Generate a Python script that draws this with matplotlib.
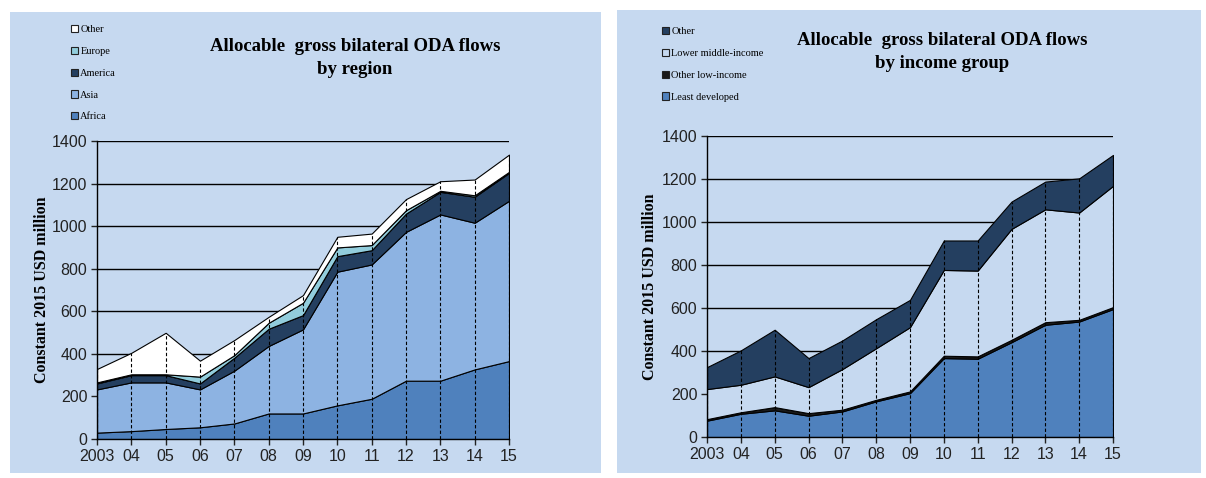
import matplotlib.pyplot as plt
from matplotlib.patches import Rectangle, Patch
import numpy as np

# data
years = ['2003', '04', '05', '06', '07', '08', '09', '10', '11', '12', '13', '14', '15']

africa = [30, 37, 47, 55, 73, 120, 120, 158, 189, 274, 274, 327, 366]
asia = [203, 229, 219, 178, 248, 317, 395, 628, 631, 699, 781, 689, 753]
america = [28, 34, 34, 28, 61, 81, 67, 73, 67, 86, 106, 122, 131]
europe = [5, 4, 4, 32, 12, 28, 58, 41, 24, 16, 5, 7, 5]
other_reg = [63, 101, 195, 75, 71, 28, 36, 50, 54, 52, 45, 74, 81]

ldc = [76, 108, 124, 99, 119, 166, 204, 367, 364, 441, 522, 537, 595]
oli = [7, 7, 15, 12, 8, 7, 8, 11, 11, 11, 12, 8, 9]
lmi = [140, 128, 143, 121, 189, 240, 299, 399, 399, 516, 525, 499, 564]
other_inc = [102, 160, 217, 135, 133, 135, 127, 137, 140, 127, 129, 159, 144]

BG = '#C6D9F0'
MID = '#4F81BD'
LIGHT = '#8DB3E2'
NAVY = '#243F60'
TEAL = '#92CDDC'

SERIF = ['Liberation Serif', 'DejaVu Serif']
NARROW = ['Liberation Sans Narrow', 'Liberation Sans', 'DejaVu Sans']

W, H = 1206, 478
fig = plt.figure(figsize=(W / 100, H / 100), dpi=100)

def px_rect(x0, y0, x1, y1):
    return [x0 / W, 1 - y1 / H, (x1 - x0) / W, (y1 - y0) / H]

# panel backgrounds
for r in [px_rect(10, 12, 601, 473), px_rect(617, 10, 1201, 473)]:
    fig.patches.append(Rectangle((r[0], r[1]), r[2], r[3], transform=fig.transFigure,
                                 facecolor=BG, edgecolor='none', zorder=-5))


def draw_panel(rect, layers, colors, title, title_xy, leg_labels, leg_colors, leg_xy, ylab_x):
    ax = fig.add_axes(px_rect(*rect))
    ax.set_zorder(2)
    ax.patch.set_alpha(0)
    x = np.arange(len(years))
    ax.stackplot(x, *layers, colors=colors, edgecolor='black', linewidth=0.8, zorder=2)
    total = np.sum(layers, axis=0)
    ax.vlines(x, 0, total, colors='black', linestyles=(0, (3, 2)), linewidth=0.8, zorder=3)
    ax.set_xlim(0, len(years) - 1)
    ax.set_ylim(0, 1400)
    ax.set_yticks(range(0, 1401, 200))
    ax.set_xticks(x)
    ax.set_xticklabels(years)
    ax.yaxis.grid(True, color='black', linewidth=1.0, zorder=1)
    ax.set_axisbelow(True)
    for s in ['top', 'right']:
        ax.spines[s].set_visible(False)
    for s in ['left', 'bottom']:
        ax.spines[s].set_linewidth(1.0)
        ax.spines[s].set_zorder(4)
    ax.tick_params(direction='out', length=4, width=1, labelsize=11.5, pad=3, colors='#222222')
    for lab in ax.get_xticklabels() + ax.get_yticklabels():
        lab.set_family(NARROW)
    fig.text(ylab_x / W, 1 - (rect[1] + rect[3]) / 2 / H, 'Constant 2015 USD million',
             rotation=90, ha='center', va='center', fontsize=11.5, fontweight='bold', family=SERIF)
    fig.text(title_xy[0] / W, 1 - title_xy[1] / H, title, ha='center', va='center',
             fontsize=13.5, fontweight='bold', family=SERIF, linespacing=1.5)
    handles = [Patch(facecolor=c, edgecolor='#222222', linewidth=0.8) for c in leg_colors]
    fig.legend(handles, leg_labels, loc='upper left',
               bbox_to_anchor=(leg_xy[0] / W, 1 - leg_xy[1] / H),
               frameon=False, handlelength=0.7, handleheight=0.7,
               handletextpad=0.2, labelspacing=1.2, borderpad=0, borderaxespad=0,
               prop={'family': SERIF, 'size': 7.5})
    return ax


draw_panel((97, 141, 509, 439),
           [africa, asia, america, europe, other_reg],
           [MID, LIGHT, NAVY, TEAL, 'white'],
           'Allocable  gross bilateral ODA flows\nby region', (355, 58),
           ['Other', 'Europe', 'America', 'Asia', 'Africa'],
           ['white', TEAL, NAVY, LIGHT, MID], (71, 25), 42)

draw_panel((707, 136, 1113, 437),
           [ldc, oli, lmi, other_inc],
           [MID, '#1A1A1A', BG, NAVY],
           'Allocable  gross bilateral ODA flows\nby income group', (942, 52),
           ['Other', 'Lower middle-income', 'Other low-income', 'Least developed'],
           [NAVY, BG, '#1A1A1A', MID], (662, 27), 650)

fig.savefig('out.png', dpi=100)
